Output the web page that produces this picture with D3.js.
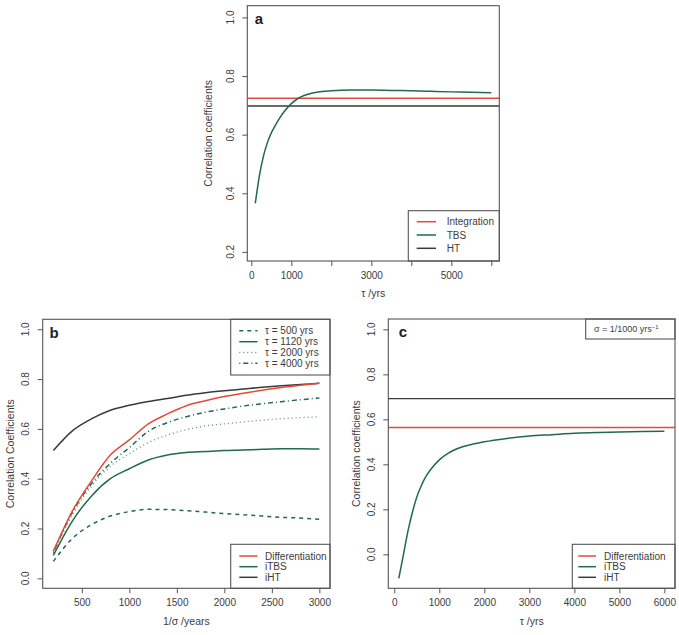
<!DOCTYPE html>
<html>
<head>
<meta charset="utf-8">
<script src="https://cdn.jsdelivr.net/npm/d3@7"></script>
<style>
  body { margin: 0; background: #fff; }
  svg text { font-family: "Liberation Sans", Arial, Helvetica, sans-serif; fill: #3c3c3c; }
</style>
</head>
<body>
<div id="chart"></div>
<script>
// ---- data ----
// panel a : correlation vs tau
var tauA = [100, 200, 300, 400, 500, 600, 700, 800, 1000, 1200, 1500, 2000, 2500, 3000, 3500, 4000, 4500, 5000, 5500, 6000];
var tbsA = [0.366, 0.458, 0.525, 0.572, 0.606, 0.632, 0.655, 0.675, 0.706, 0.726, 0.741, 0.750, 0.752, 0.752, 0.751, 0.750, 0.748, 0.746, 0.745, 0.743];
var integrationA = 0.724;
var htA = 0.698;

// panel b : correlation vs 1/sigma
var invSigmaB = [200, 400, 600, 800, 1000, 1200, 1400, 1600, 1800, 2000, 2200, 2400, 2600, 2800, 3000];
var diffB   = [0.109, 0.270, 0.390, 0.495, 0.556, 0.620, 0.660, 0.693, 0.713, 0.730, 0.743, 0.755, 0.766, 0.775, 0.783];
var ihtB    = [0.513, 0.592, 0.640, 0.675, 0.695, 0.710, 0.722, 0.735, 0.745, 0.753, 0.760, 0.767, 0.773, 0.778, 0.783];
var tau500B  = [0.068, 0.160, 0.215, 0.250, 0.268, 0.277, 0.276, 0.272, 0.266, 0.260, 0.255, 0.250, 0.245, 0.242, 0.237];
var tau1120B = [0.092, 0.230, 0.330, 0.400, 0.440, 0.475, 0.495, 0.505, 0.509, 0.513, 0.515, 0.518, 0.520, 0.520, 0.519];
var tau2000B = [0.100, 0.255, 0.370, 0.450, 0.500, 0.545, 0.575, 0.597, 0.612, 0.620, 0.628, 0.635, 0.641, 0.645, 0.649];
var tau4000B = [0.104, 0.265, 0.380, 0.462, 0.525, 0.590, 0.625, 0.649, 0.667, 0.680, 0.692, 0.701, 0.709, 0.717, 0.724];

// panel c : correlation vs tau, sigma = 1/1000
var tauC  = [100, 200, 300, 400, 500, 600, 700, 800, 1000, 1200, 1500, 2000, 2500, 3000, 3500, 4000, 4500, 5000, 5500, 6000];
var itbsC = [-0.107, -0.005, 0.100, 0.185, 0.255, 0.305, 0.345, 0.375, 0.420, 0.450, 0.477, 0.500, 0.515, 0.526, 0.532, 0.538, 0.541, 0.544, 0.546, 0.547];
var diffC = 0.564;
var ihtC  = 0.692;

var RED = "#e5493b", GREEN = "#1f6b4a", DARK = "#3a3a3a";

var svg = d3.select("#chart").append("svg")
  .attr("width", 679)
  .attr("height", 635);

// draw a framed panel with R-like axes
function panel(o) {
  var x = d3.scaleLinear().domain(o.xDomain).range([o.left, o.right]);
  var y = d3.scaleLinear().domain(o.yDomain).range([o.bottom, o.top]);
  var g = svg.append("g");

  // x axis
  var xa = g.append("g")
    .attr("transform", `translate(0, ${o.bottom})`)
    .call(d3.axisBottom(x).tickValues(o.xTicks).tickSize(5).tickPadding(6)
      .tickFormat(d => o.xLabels.indexOf(d) >= 0 ? d : ""));
  xa.select(".domain").attr("stroke", "none");
  xa.selectAll("line").attr("stroke", "#555");
  xa.selectAll("text").attr("font-size", 10).style("fill", "#3c3c3c");

  // y axis, labels rotated like base R
  var ya = g.append("g")
    .attr("transform", `translate(${o.left}, 0)`)
    .call(d3.axisLeft(y).tickValues(o.yTicks).tickSize(5).tickFormat(""));
  ya.select(".domain").attr("stroke", "none");
  ya.selectAll("line").attr("stroke", "#555");
  g.selectAll(".ylab").data(o.yTicks).enter().append("text")
    .attr("transform", d => `translate(${o.left - 17}, ${y(d)}) rotate(-90)`)
    .attr("text-anchor", "middle")
    .attr("dy", "0.35em")
    .attr("font-size", 10)
    .text(d => d3.format(".1f")(d));

  // axis titles
  g.append("text")
    .attr("x", (o.left + o.right) / 2)
    .attr("y", o.xTitleY)
    .attr("text-anchor", "middle")
    .attr("dy", "0.35em")
    .attr("font-size", 10.5)
    .text(o.xTitle);
  g.append("text")
    .attr("transform", `translate(${o.yTitleX}, ${(o.top + o.bottom) / 2}) rotate(-90)`)
    .attr("text-anchor", "middle")
    .attr("dy", "0.35em")
    .attr("font-size", 10.5)
    .text(o.yTitle);

  // panel letter
  g.append("text")
    .attr("x", o.letterX)
    .attr("y", o.top + 13)
    .attr("text-anchor", "middle")
    .attr("dy", "0.35em")
    .attr("font-size", 15)
    .attr("font-weight", "bold")
    .style("fill", "#222")
    .text(o.letter);

  return { g: g, x: x, y: y };
}

function hline(p, v, color) {
  p.g.append("line")
    .attr("x1", p.x.range()[0]).attr("x2", p.x.range()[1])
    .attr("y1", p.y(v)).attr("y2", p.y(v))
    .attr("stroke", color).attr("stroke-width", 1.4);
}

function curve(p, xs, ys, color, dash, width) {
  var line = d3.line().x(d => p.x(d[0])).y(d => p.y(d[1])).curve(d3.curveMonotoneX);
  p.g.append("path")
    .datum(xs.map((v, i) => [v, ys[i]]))
    .attr("d", line)
    .attr("fill", "none")
    .attr("stroke", color)
    .attr("stroke-width", width || 1.5)
    .attr("stroke-dasharray", dash || null);
}

function frame(p) {
  var xr = p.x.range(), yr = p.y.range();
  p.g.append("rect")
    .attr("x", xr[0]).attr("y", yr[1])
    .attr("width", xr[1] - xr[0]).attr("height", yr[0] - yr[1])
    .attr("fill", "none").attr("stroke", "#555").attr("stroke-width", 1.1);
}

function legend(p, box, items) {
  p.g.append("rect")
    .attr("x", box.x0).attr("y", box.y0)
    .attr("width", box.x1 - box.x0).attr("height", box.y1 - box.y0)
    .attr("fill", "#fff").attr("stroke", "#555").attr("stroke-width", 1.1);
  items.forEach(function(it, i) {
    var yy = box.rows[i];
    p.g.append("line")
      .attr("x1", box.s0).attr("x2", box.s1)
      .attr("y1", yy).attr("y2", yy)
      .attr("stroke", it.color).attr("stroke-width", it.width || 1.5)
      .attr("stroke-dasharray", it.dash || null);
    p.g.append("text")
      .attr("x", box.tx).attr("y", yy)
      .attr("dy", "0.35em")
      .attr("font-size", 10)
      .text(it.label);
  });
}

// ---------- panel a ----------
var pa = panel({
  left: 247.3, right: 499.3, top: 5.7, bottom: 261,
  xDomain: [-100, 6200], yDomain: [0.169, 1.040],
  xTicks: [0, 1000, 2000, 3000, 4000, 5000, 6000], xLabels: [0, 1000, 3000, 5000],
  yTicks: [0.2, 0.4, 0.6, 0.8, 1.0],
  xTitle: "τ /yrs", xTitleY: 293,
  yTitle: "Correlation coefficients", yTitleX: 208,
  letter: "a", letterX: 259
});
hline(pa, integrationA, RED);
hline(pa, htA, DARK);
curve(pa, tauA, tbsA, GREEN);
legend(pa, { x0: 408.3, x1: 499.3, y0: 210.7, y1: 261, s0: 416.7, s1: 436, tx: 446.7, rows: [221.7, 235, 248.3] }, [
  { label: "Integration", color: RED },
  { label: "TBS", color: GREEN },
  { label: "HT", color: DARK }
]);
frame(pa);

// ---------- panel b ----------
var pb = panel({
  left: 42.7, right: 330, top: 319.3, bottom: 588.3,
  xDomain: [88, 3112], yDomain: [-0.04, 1.04],
  xTicks: [500, 1000, 1500, 2000, 2500, 3000], xLabels: [500, 1000, 1500, 2000, 2500, 3000],
  yTicks: [0, 0.2, 0.4, 0.6, 0.8, 1.0],
  xTitle: "1/σ /years", xTitleY: 621.7,
  yTitle: "Correlation Coefficients", yTitleX: 10,
  letter: "b", letterX: 54
});
curve(pb, invSigmaB, ihtB, DARK);
curve(pb, invSigmaB, tau500B, GREEN, "4,4");
curve(pb, invSigmaB, tau2000B, "#5a8f74", "1,3", 1.3);
curve(pb, invSigmaB, tau4000B, GREEN, "1,3,5,3");
curve(pb, invSigmaB, tau1120B, GREEN);
curve(pb, invSigmaB, diffB, RED);
legend(pb, { x0: 230.7, x1: 330, y0: 319.3, y1: 375, s0: 239.3, s1: 257.5, tx: 265, rows: [330.7, 341.7, 352.5, 363.3] }, [
  { label: "τ = 500 yrs", color: GREEN, dash: "4,4" },
  { label: "τ = 1120 yrs", color: GREEN },
  { label: "τ = 2000 yrs", color: "#5a8f74", dash: "1,3", width: 1.3 },
  { label: "τ = 4000 yrs", color: GREEN, dash: "1,3,5,3" }
]);
legend(pb, { x0: 230.7, x1: 330, y0: 544.3, y1: 588.3, s0: 239.3, s1: 257.5, tx: 265, rows: [556, 566.7, 577.3] }, [
  { label: "Differentiation", color: RED },
  { label: "iTBS", color: GREEN },
  { label: "iHT", color: DARK }
]);
frame(pb);

// ---------- panel c ----------
var pc = panel({
  left: 388.3, right: 675, top: 319, bottom: 588.3,
  xDomain: [-133, 6236], yDomain: [-0.151, 1.046],
  xTicks: [0, 1000, 2000, 3000, 4000, 5000, 6000], xLabels: [0, 1000, 2000, 3000, 4000, 5000, 6000],
  yTicks: [0, 0.2, 0.4, 0.6, 0.8, 1.0],
  xTitle: "τ /yrs", xTitleY: 621.7,
  yTitle: "Correlation coefficients", yTitleX: 356.7,
  letter: "c", letterX: 403
});
hline(pc, ihtC, DARK);
hline(pc, diffC, RED);
curve(pc, tauC, itbsC, GREEN);
legend(pc, { x0: 572.3, x1: 675, y0: 544.3, y1: 588.3, s0: 578.3, s1: 596, tx: 604, rows: [556, 566.7, 577.3] }, [
  { label: "Differentiation", color: RED },
  { label: "iTBS", color: GREEN },
  { label: "iHT", color: DARK }
]);
// sigma note box
pc.g.append("rect")
  .attr("x", 585.7).attr("y", 319)
  .attr("width", 675 - 585.7).attr("height", 20)
  .attr("fill", "#fff").attr("stroke", "#555").attr("stroke-width", 1.1);
var note = pc.g.append("text")
  .attr("x", 594).attr("y", 329)
  .attr("dy", "0.35em")
  .attr("font-size", 9);
note.append("tspan").text("σ = 1/1000 yrs");
note.append("tspan").attr("dy", "-0.45em").attr("font-size", 6).text("−1");
frame(pc);
</script>
</body>
</html>
